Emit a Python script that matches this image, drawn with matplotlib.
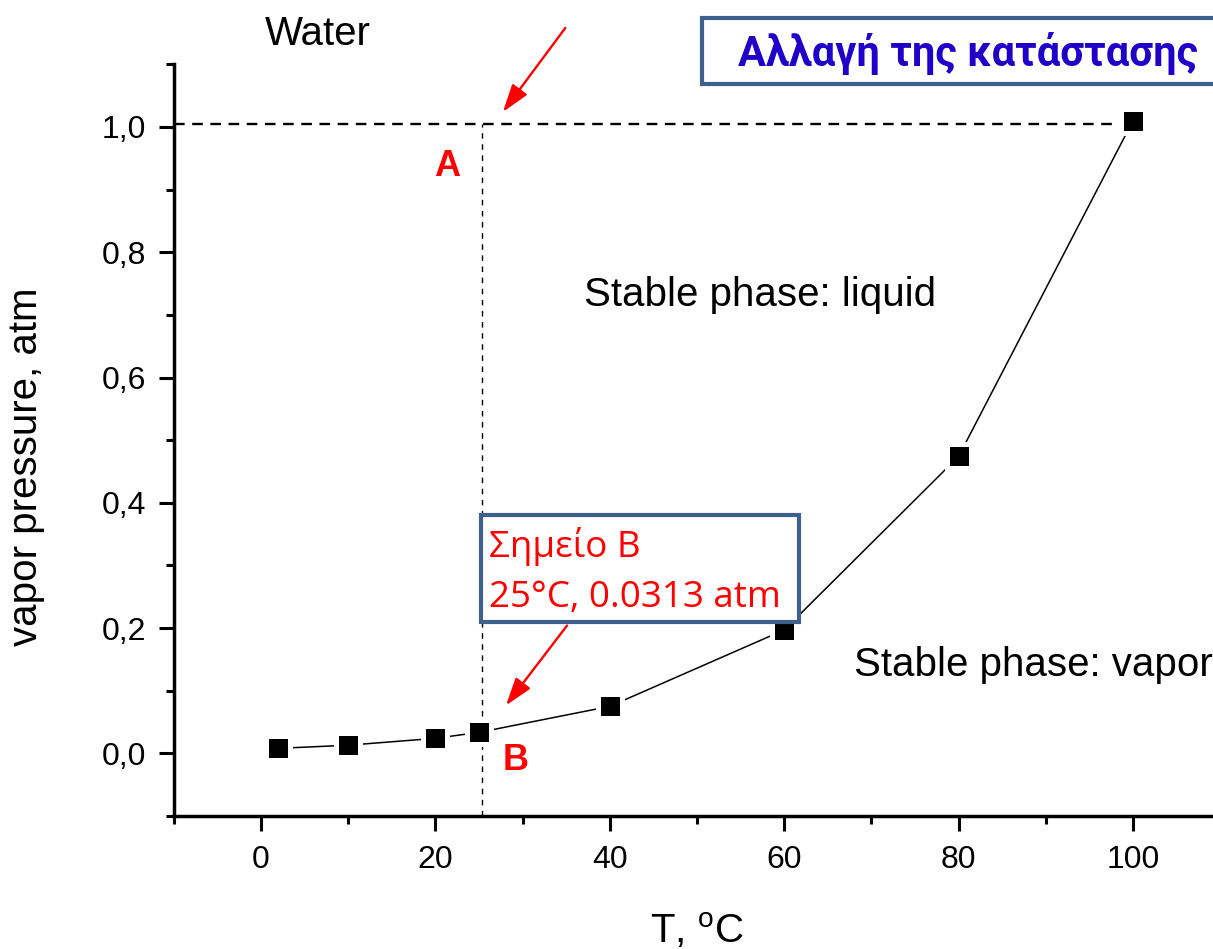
import matplotlib
matplotlib.use("Agg")
import matplotlib.pyplot as plt
from matplotlib.patches import Rectangle
from matplotlib.ticker import MultipleLocator, FuncFormatter

plt.rcParams['font.family'] = ['Liberation Sans', 'DejaVu Sans']
plt.rcParams['mathtext.fontset'] = 'custom'
plt.rcParams['mathtext.rm'] = 'Liberation Sans'

# vapor pressure of water
temp = [2, 10, 20, 25, 40, 60, 80, 100]
pressure = [0.008, 0.013, 0.024, 0.0335, 0.075, 0.197, 0.474, 1.01]

point_a = (25.4, 1.004)
box_line1 = "Σημείο B"
box_line2 = "25°C, 0.0313 atm"
title_text = "Αλλαγή της κατάστασης"

W, H = 1213, 949
fig = plt.figure(figsize=(W / 100, H / 100), dpi=100)
ax = fig.add_axes([173.75 / W, 1 - 816 / H, (1220.2 - 173.75) / W, (816 - 64.3) / H])

# dashed guides
ax.plot([-10, 100], [point_a[1], point_a[1]], ls=(0, (4.5, 3.2)), color='black', lw=1.7, zorder=2)
ax.plot([point_a[0], point_a[0]], [-0.1, point_a[1]], ls=(0, (4, 4)), color='black', lw=1.0, zorder=2)

ax.plot(temp, pressure, color='black', lw=1.1, zorder=3)
ax.plot(temp, pressure, ls='none', marker='s', ms=16.8, mfc='black', mec='white', mew=3.6, zorder=4)

ax.set_xlim(-10, 110)
ax.set_ylim(-0.1, 1.1)
ax.xaxis.set_major_locator(MultipleLocator(20))
ax.xaxis.set_minor_locator(MultipleLocator(10))
ax.yaxis.set_major_locator(MultipleLocator(0.2))
ax.yaxis.set_minor_locator(MultipleLocator(0.1))
ax.yaxis.set_major_formatter(FuncFormatter(lambda v, p: f"{v:.1f}".replace('.', ',')))

for s in ['top', 'right']:
    ax.spines[s].set_visible(False)
for s in ['left', 'bottom']:
    ax.spines[s].set_linewidth(2.5)
ax.tick_params(which='major', direction='out', length=11, width=2.2, labelsize=23)
ax.tick_params(which='minor', direction='out', length=6, width=2.2)
ax.tick_params(axis='x', which='major', pad=10)
ax.tick_params(axis='y', which='major', pad=9)

ax.set_xlabel(r'T, $^{\mathrm{o}}$C', fontsize=29)
ax.xaxis.label.set_va('baseline')
ax.xaxis.set_label_coords(0.5, (816 - 943) / (816 - 64.3))
ax.set_ylabel('vapor pressure, atm', fontsize=29)
ax.yaxis.label.set_va('baseline')
ax.yaxis.set_label_coords((37 - 173.75) / (1220.2 - 173.75), (816 - 467) / (816 - 64.3))

# text labels
ax.text(0.46, 1.131, 'Water', fontsize=29, va='baseline', clip_on=False)
ax.text(37.1, 0.714, 'Stable phase: liquid', fontsize=29, va='baseline')
ax.text(68.0, 0.124, 'Stable phase: vapor', fontsize=29, va='baseline')
ax.text(19.9, 0.922, 'A', fontsize=26, color='red', fontweight='bold', va='baseline')
ax.text(27.7, -0.027, 'B', fontsize=26, color='red', fontweight='bold', va='baseline')

# arrows
arrow = dict(arrowstyle='-|>,head_length=0.85,head_width=0.28', color='red', lw=1.7,
             mutation_scale=20, shrinkA=0, shrinkB=0)
ax.annotate('', xy=(27.75, 1.024), xytext=(34.9, 1.158), arrowprops=arrow, annotation_clip=False)
ax.annotate('', xy=(28.1, 0.0766), xytext=(35.1, 0.204), arrowprops=arrow, annotation_clip=False)

# box for point B
edge = '#3E608C'
greek = ['Open Sans', 'Noto Sans', 'DejaVu Sans']
ax.add_patch(Rectangle((25.25, 0.21), 36.4, 0.171, facecolor='white', edgecolor=edge, lw=3.0, zorder=5))
ax.text(26.15, 0.314, box_line1, fontsize=26.5, color='red', family=greek, va='baseline', zorder=6)
ax.text(26.15, 0.233, box_line2, fontsize=26.5, color='red', family=greek, va='baseline', zorder=6)

# title box, running off the right edge like the original
fig.patches.append(Rectangle((702 / W, 1 - 84 / H), 0.6, 66 / H, transform=fig.transFigure,
                             facecolor='white', edgecolor=edge, lw=3.0, figure=fig))
fig.text(738 / W, 1 - 66 / H, title_text, fontsize=30, color='#1E00C8', fontweight='bold',
         family=['Roboto', 'Open Sans', 'DejaVu Sans'], va='baseline')

fig.savefig('out.png', dpi=100)
